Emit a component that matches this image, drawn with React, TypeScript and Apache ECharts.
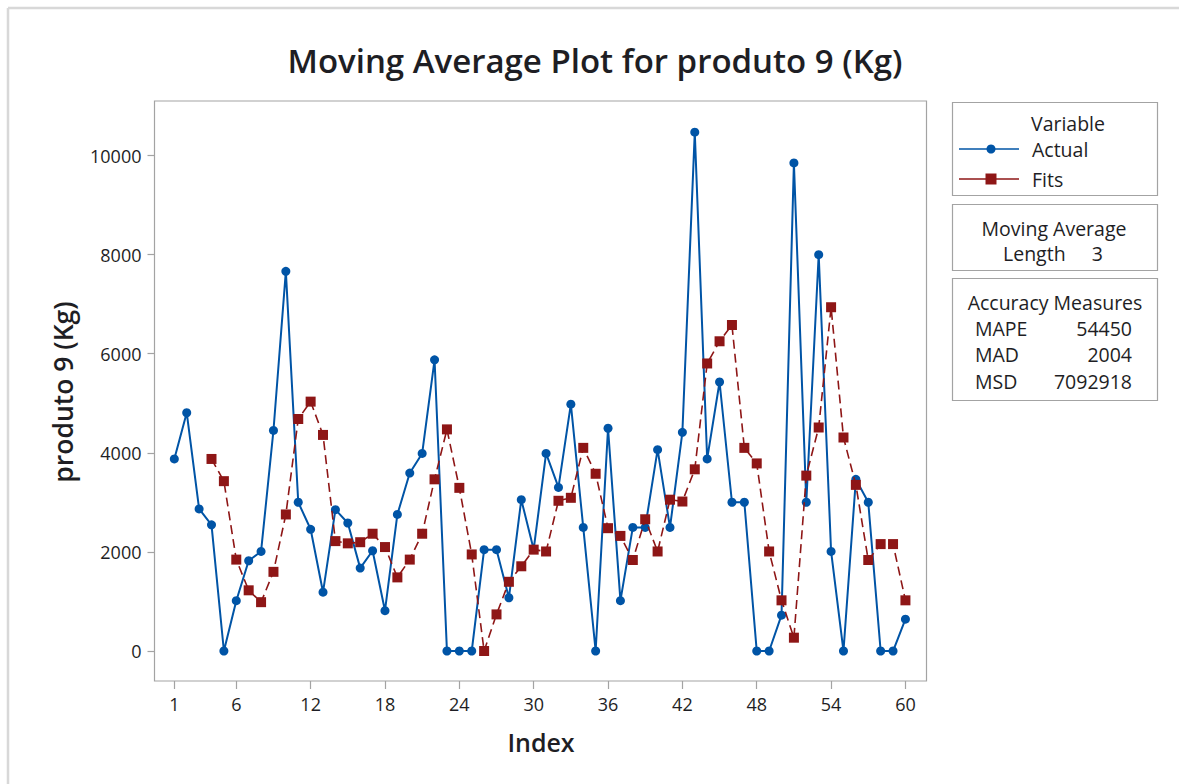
import React, { useEffect, useRef } from "react";
import * as echarts from "echarts";

// Observed series (Actual) and 3-period moving-average fits, by index 1..60
const actual = [
  3876, 4809, 2868, 2547, 0, 1016, 1822, 2009, 4451, 7662,
  3002, 2457, 1187, 2853, 2584, 1673, 2024, 814, 2756, 3592,
  3988, 5877, 0, 0, 0, 2046, 2046, 1075, 3054, 2050,
  3988, 3301, 4981, 2494, 0, 4496, 1016, 2494, 2494, 4063,
  2494, 4414, 10470, 3876, 5429, 3002, 3002, 0, 0, 724,
  9850, 3002, 7998, 2009, 0, 3465, 3002, 0, 0, 642,
];

const fits: (number | null)[] = [
  null, null, null, 3876, 3428, 1845, 1225, 986, 1598, 2756,
  4682, 5033, 4361, 2218, 2173, 2196, 2367, 2098, 1486, 1845,
  2367, 3465, 4473, 3293, 1949, 0, 739, 1397, 1710, 2046,
  2009, 3032, 3092, 4100, 3577, 2479, 2323, 1837, 2659, 2009,
  3054, 3017, 3667, 5803, 6251, 6579, 4100, 3786, 2009, 1023,
  269, 3540, 4511, 6938, 4309, 3353, 1837, 2158, 2158, 1023,
];

const xTicks = [1, 6, 12, 18, 24, 30, 36, 42, 48, 54, 60];
const yTicks = [0, 2000, 4000, 6000, 8000, 10000];

const seriesNames = ["Actual", "Fits"];
const maLength = 3;
const accuracyNames = ["MAPE", "MAD", "MSD"];
const accuracyValues = ["54450", "2004", "7092918"];

const titleText = "Moving Average Plot for produto 9 (Kg)";
const xName = "Index";
const yName = "produto 9 (Kg)";

const BLUE = "#0054a6";
const RED = "#8e1616";
const FRAME = "#a3a3a3";
const TEXT = "#1e1e24";
const FONT = "'Open Sans', 'Noto Sans', sans-serif";
const LEG = 19.5;
const TICK = 18;

function txt(
  text: string,
  x: number,
  y: number,
  size: number,
  align: string,
  weight: number | string = "normal",
  extra: Record<string, unknown> = {}
) {
  return {
    type: "text",
    x,
    y,
    ...extra,
    style: {
      text,
      fill: TEXT,
      fontSize: size,
      fontFamily: FONT,
      fontWeight: weight,
      textAlign: align,
      textVerticalAlign: "middle",
      align,
      verticalAlign: "middle",
    },
  };
}

export default function App() {
  const ref = useRef<HTMLDivElement>(null);

  useEffect(() => {
    if (!ref.current) return;
    const chart = echarts.init(ref.current, null, { renderer: "svg" });

    const actualData = actual.map((v, i) => [i + 1, v]);
    const fitsData = fits.map((v, i) => [i + 1, v]);

    const boxStyle = { fill: "none", stroke: FRAME, lineWidth: 1.2 };

    const graphic: any[] = [
      // outer light frame
      { type: "line", shape: { x1: 8, y1: 8, x2: 1179, y2: 8 }, style: { stroke: "#d8d8d8", lineWidth: 2.5 } },
      { type: "line", shape: { x1: 8, y1: 8, x2: 8, y2: 784 }, style: { stroke: "#d8d8d8", lineWidth: 2.5 } },

      txt(titleText, 595, 60, 33, "center", 600),
      txt(xName, 541, 742, 25, "center", 600),
      txt(yName, 63, 392, 26.5, "center", 600, { rotation: Math.PI / 2 }),

      // Variable legend box
      { type: "rect", shape: { x: 952.5, y: 102.5, width: 205, height: 93 }, style: boxStyle },
      txt("Variable", 1068, 123, LEG, "center"),
      { type: "line", shape: { x1: 959, y1: 149, x2: 1019, y2: 149 }, style: { stroke: BLUE, lineWidth: 1.5 } },
      { type: "circle", shape: { cx: 991, cy: 149, r: 4.5 }, style: { fill: BLUE } },
      txt(seriesNames[0], 1032, 149, LEG, "left"),
      { type: "line", shape: { x1: 959, y1: 179, x2: 1019, y2: 179 }, style: { stroke: RED, lineWidth: 1.5 } },
      { type: "rect", shape: { x: 985.5, y: 173.5, width: 11, height: 11 }, style: { fill: RED } },
      txt(seriesNames[1], 1032, 179, LEG, "left"),

      // Moving-average length box
      { type: "rect", shape: { x: 952.5, y: 204.5, width: 205, height: 66 }, style: boxStyle },
      txt("Moving Average", 1054, 228, LEG, "center"),
      txt("Length", 1003, 253, LEG, "left"),
      txt(String(maLength), 1103, 253, LEG, "right"),

      // Accuracy measures box
      { type: "rect", shape: { x: 952.5, y: 278.5, width: 205, height: 122 }, style: boxStyle },
      txt("Accuracy Measures", 1055, 302, LEG, "center"),
    ];

    accuracyNames.forEach((name, k) => {
      const y = 328 + k * 26.5;
      graphic.push(txt(name, 975, y, LEG, "left"));
      graphic.push(txt(accuracyValues[k], 1132, y, LEG, "right"));
    });

    chart.setOption({
      animation: false,
      backgroundColor: "#ffffff",
      grid: {
        left: 154.5,
        top: 101,
        width: 772,
        height: 580,
        show: true,
        borderColor: FRAME,
        borderWidth: 1.2,
        containLabel: false,
      },
      xAxis: {
        type: "value",
        min: -0.6,
        max: 61.7,
        splitLine: { show: false },
        axisLine: { show: false, onZero: false },
        axisTick: {
          show: true,
          customValues: xTicks,
          length: 8,
          inside: false,
          lineStyle: { color: FRAME, width: 1.2 },
        },
        axisLabel: {
          customValues: xTicks,
          margin: 14,
          fontSize: TICK,
          color: TEXT,
          fontFamily: FONT,
          formatter: (v: number) => String(v),
        },
      },
      yAxis: {
        type: "value",
        min: -605,
        max: 11100,
        splitLine: { show: false },
        axisLine: { show: false, onZero: false },
        axisTick: {
          show: true,
          customValues: yTicks,
          length: 7,
          inside: false,
          lineStyle: { color: FRAME, width: 1.2 },
        },
        axisLabel: {
          customValues: yTicks,
          margin: 13,
          fontSize: TICK,
          color: TEXT,
          fontFamily: FONT,
          formatter: (v: number) => String(v),
        },
      },
      series: [
        {
          name: seriesNames[0],
          type: "line",
          data: actualData,
          symbol: "circle",
          symbolSize: 9,
          itemStyle: { color: BLUE },
          lineStyle: { color: BLUE, width: 2 },
          z: 2,
        },
        {
          name: seriesNames[1],
          type: "line",
          data: fitsData,
          symbol: "rect",
          symbolSize: 10,
          connectNulls: false,
          itemStyle: { color: RED },
          lineStyle: { color: RED, width: 1.6, type: [9, 5] },
          z: 3,
        },
      ],
      graphic,
    });

    return () => chart.dispose();
  }, []);

  return (
    <div
      ref={ref}
      style={{ position: "absolute", left: 0, top: 0, width: 1179, height: 784, background: "#fff" }}
    />
  );
}
